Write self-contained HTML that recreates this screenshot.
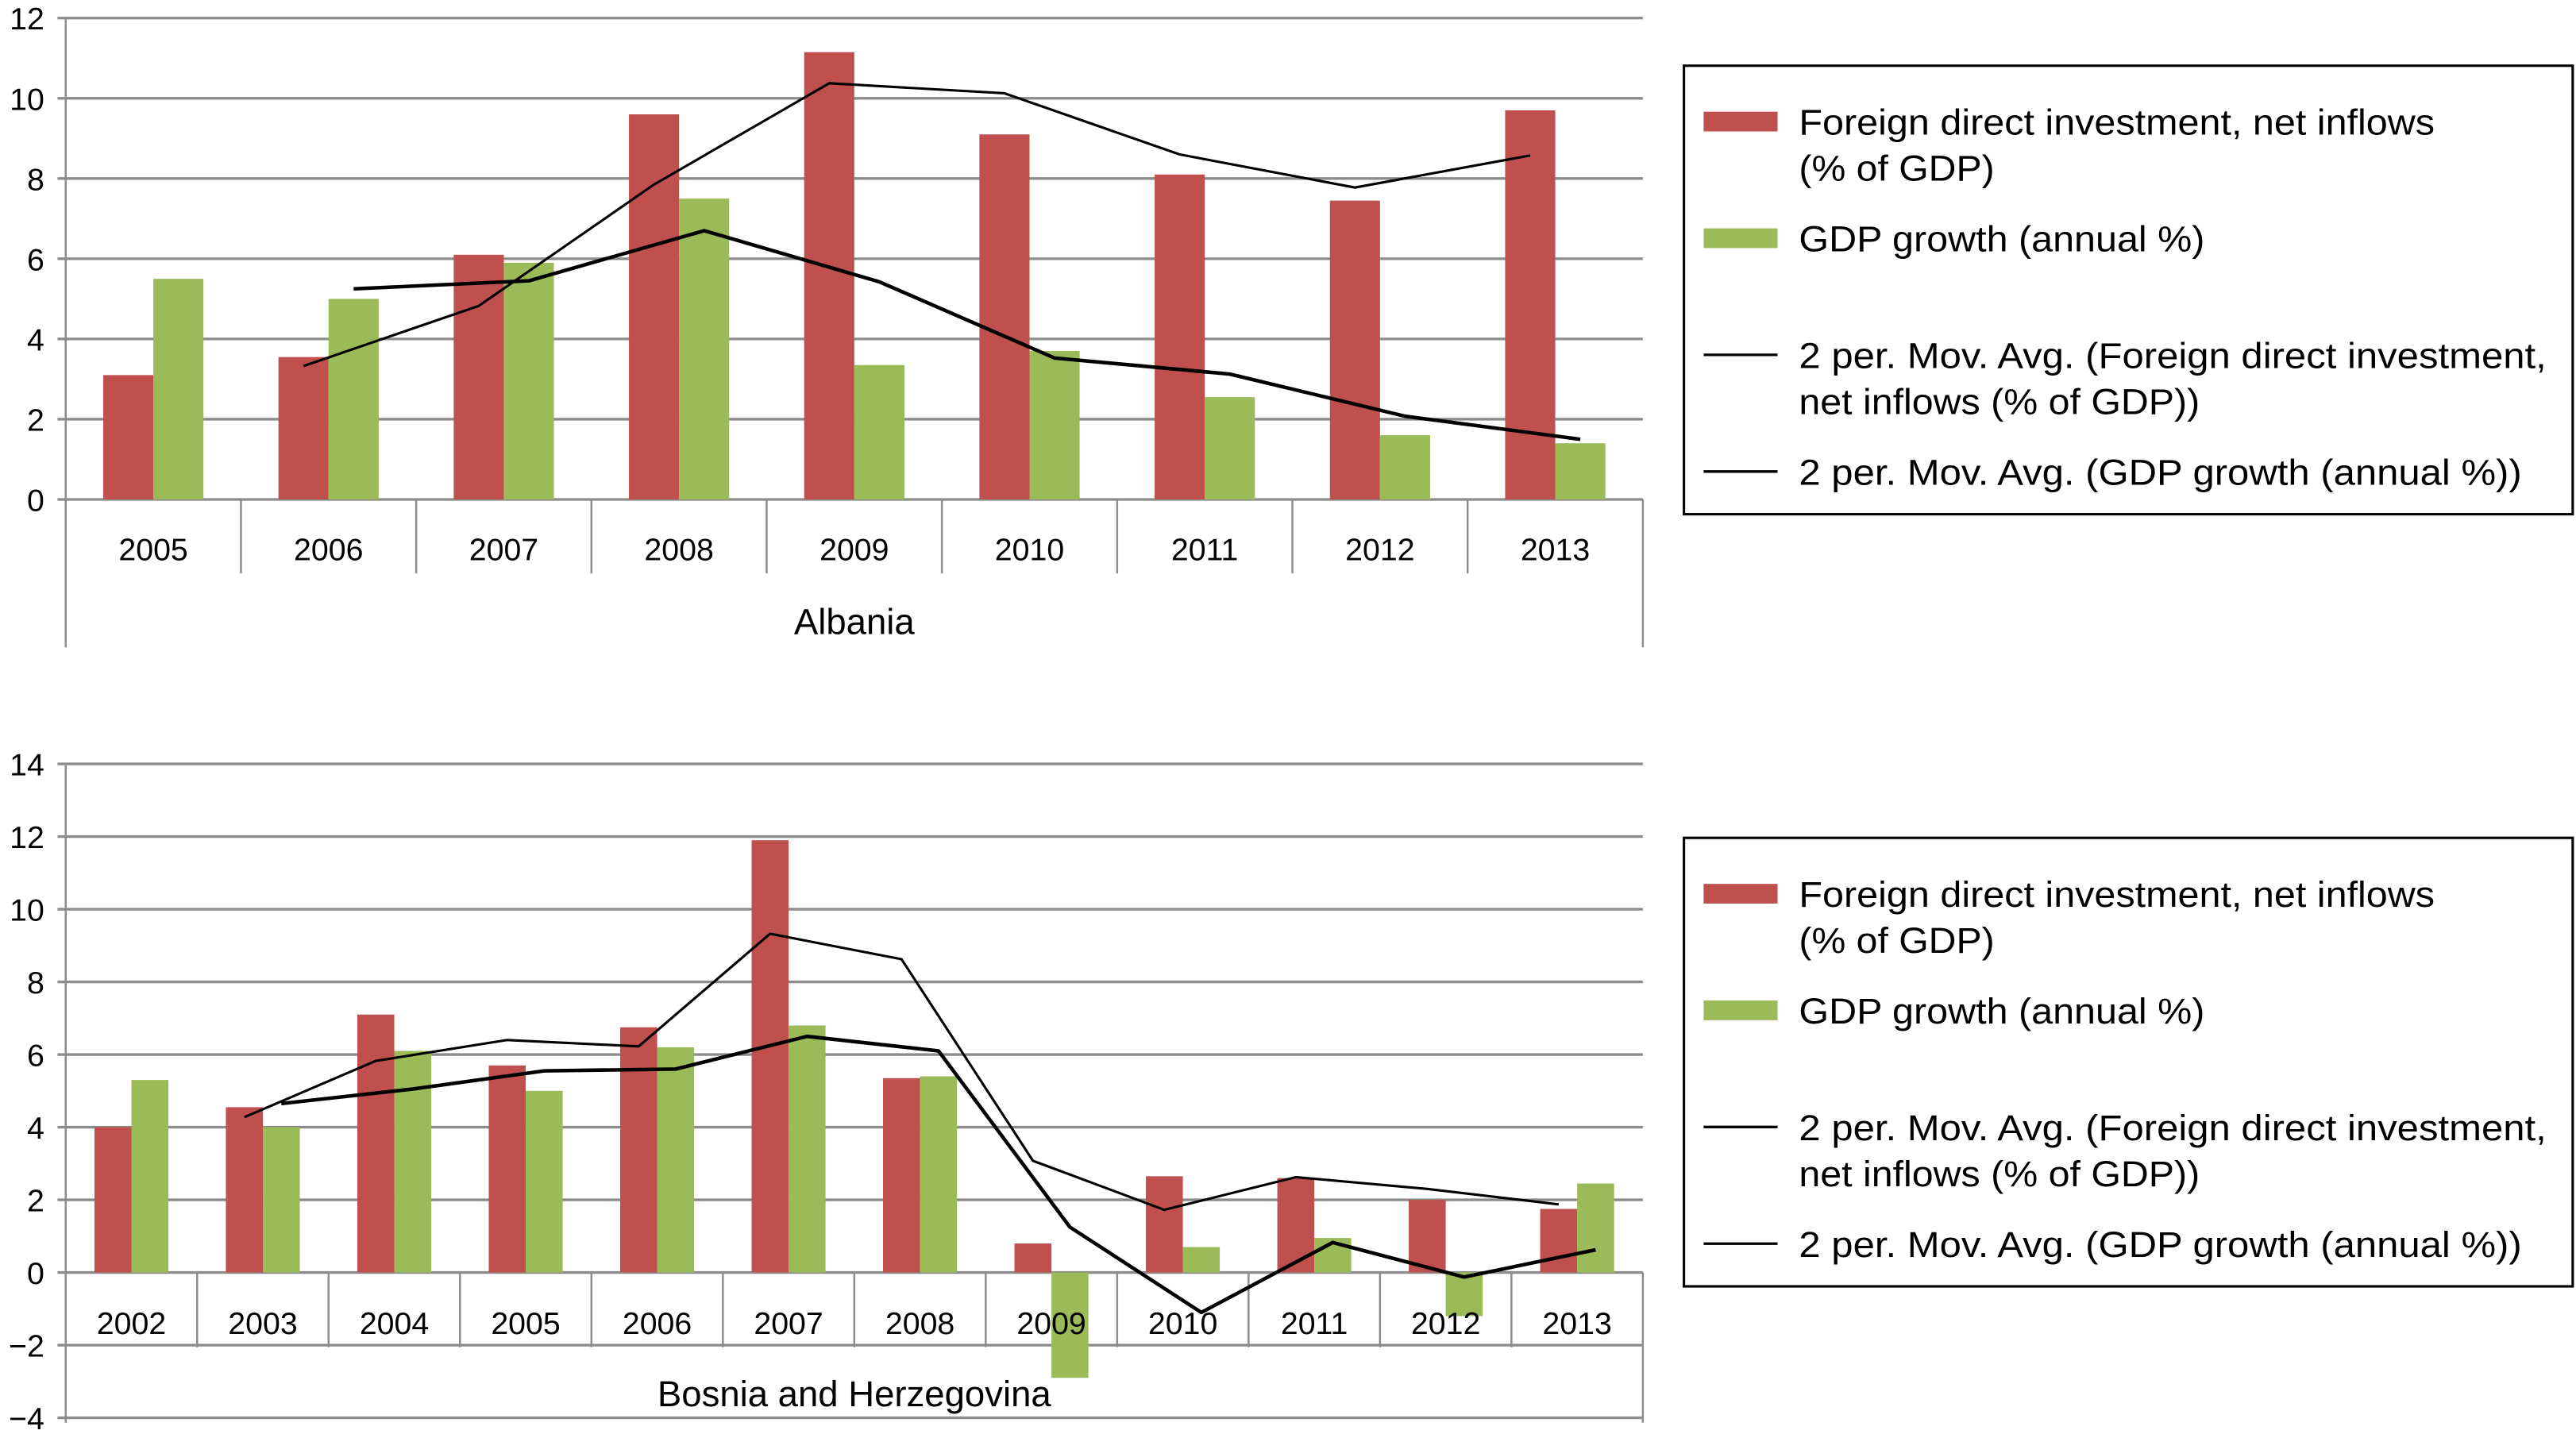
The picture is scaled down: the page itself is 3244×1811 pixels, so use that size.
<!DOCTYPE html>
<html><head><meta charset="utf-8"><style>
html,body{margin:0;padding:0;background:#fff;}
svg{display:block;}
text{font-family:"Liberation Sans",Arial,sans-serif;fill:#000;}
</style></head><body>
<svg id="s" width="3244" height="1811" viewBox="0 0 1568 875.3" preserveAspectRatio="none">
<g id="top"></g>
<g id="bot"></g>
<g id="leg"></g>
</svg>
<script>
const albYears = ["2005","2006","2007","2008","2009","2010","2011","2012","2013"];
const albFdi = [3.1,3.55,6.1,9.6,11.15,9.1,8.1,7.45,9.7];
const albGdp = [5.5,5.0,5.9,7.5,3.35,3.7,2.55,1.6,1.4];
const albTicks = [0,2,4,6,8,10,12];
const bihYears = ["2002","2003","2004","2005","2006","2007","2008","2009","2010","2011","2012","2013"];
const bihFdi = [4.0,4.55,7.1,5.7,6.75,11.9,5.35,0.8,2.65,2.6,2.0,1.75];
const bihGdp = [5.3,4.0,6.1,5.0,6.2,6.8,5.4,-2.9,0.7,0.95,-1.2,2.45];
const bihTicks = [-4,-2,0,2,4,6,8,10,12,14];
const legendLabels = ["Foreign direct investment, net inflows","(% of GDP)","GDP growth (annual %)","2 per. Mov. Avg. (Foreign direct investment,","net inflows (% of GDP))","2 per. Mov. Avg. (GDP growth (annual %))"];

const NS="http://www.w3.org/2000/svg";
function mk(parent,tag,attrs,txt){const e=document.createElementNS(NS,tag);for(const k in attrs)e.setAttribute(k,attrs[k]);if(txt!==undefined)e.textContent=txt;parent.appendChild(e);return e;}

function drawChart(g,cfg){
  const {years,fdi,gdp,ticks,yTop,yBot,vMin,vMax,x0,x1,labelY,dividerBot,outerBot,title,titleY,barW}=cfg;
  const y=v=>yTop+(vMax-v)/(vMax-vMin)*(yBot-yTop);
  const bw=(x1-x0)/years.length;
  const cx=i=>x0+bw*(i+0.5);
  ticks.forEach(t=>{
    const l=mk(g,'line',{x1:x0-5,x2:x1,y1:y(t),y2:y(t),stroke:'#8c8c8c','stroke-width':1.6});
    
    
    const tx=mk(g,'text',{x:x0-13,y:y(t)+7,'font-size':19,'text-anchor':'end'},t<0?'\u2212'+(-t):String(t));
    
    
  });
  const ax=mk(g,'line',{x1:x0,x2:x0,y1:yTop,y2:outerBot,stroke:'#8c8c8c','stroke-width':1.2});
  
  
  const z=y(0);
  const rx=mk(g,'line',{x1:x1,x2:x1,y1:z,y2:outerBot,stroke:'#8c8c8c','stroke-width':1.2});
  
  
  for(let i=1;i<years.length;i++){
    const d=mk(g,'line',{x1:x0+bw*i,x2:x0+bw*i,y1:z,y2:dividerBot,stroke:'#8c8c8c','stroke-width':1.2});
    
    
  }
  years.forEach((yr,i)=>{
    const r=mk(g,'rect',{x:cx(i)-barW,y:Math.min(y(fdi[i]),z),width:barW,height:Math.abs(z-y(fdi[i])),fill:'#c0504d'});
    
    
    const gr=mk(g,'rect',{x:cx(i),y:Math.min(y(gdp[i]),z),width:barW,height:Math.abs(z-y(gdp[i])),fill:'#9bbb59'});
    
    
  });
  years.forEach((yr,i)=>{
    const t=mk(g,'text',{x:cx(i),y:labelY,'font-size':19,'text-anchor':'middle'},yr);
    
    
  });
  const ma=(arr,off,w,name)=>{
    const pts=[];
    for(let i=1;i<arr.length;i++)pts.push((cx(i)+off)+','+y((arr[i]+arr[i-1])/2));
    const p=mk(g,'polyline',{points:pts.join(' '),fill:'none',stroke:'#000','stroke-width':w,'stroke-linejoin':'round'});
    
    
  };
  ma(fdi,-barW/2,1.5,'moving-avg-fdi-line');
  ma(gdp,barW/2,2.2,'moving-avg-gdp-line');
  const tt=mk(g,'text',{x:(x0+x1)/2,y:titleY,'font-size':22,'text-anchor':'middle'},title);
  
  
}

drawChart(document.getElementById('top'),{years:albYears,fdi:albFdi,gdp:albGdp,ticks:albTicks,yTop:11,yBot:304,vMin:0,vMax:12,x0:40,x1:1000,labelY:341,dividerBot:349,outerBot:394,title:'Albania',titleY:386,barW:30.5});
drawChart(document.getElementById('bot'),{years:bihYears,fdi:bihFdi,gdp:bihGdp,ticks:bihTicks,yTop:465,yBot:863,vMin:-4,vMax:14,x0:40,x1:1000,labelY:812,dividerBot:820,outerBot:866,title:'Bosnia and Herzegovina',titleY:856,barW:22.5});

function drawLegend(g,top,name){
  const box=mk(g,'rect',{x:1025,y:top,width:541,height:273,fill:'#fff',stroke:'#000','stroke-width':1.5});
  
  
  const s1=mk(g,'rect',{x:1037,y:top+28,width:45,height:12,fill:'#c0504d'});
  
  
  const s2=mk(g,'rect',{x:1037,y:top+99,width:45,height:12,fill:'#9bbb59'});
  
  
  const l1=mk(g,'line',{x1:1037,x2:1082,y1:top+176,y2:top+176,stroke:'#000','stroke-width':1.6});
  
  
  const l2=mk(g,'line',{x1:1037,x2:1082,y1:top+247,y2:top+247,stroke:'#000','stroke-width':1.6});
  
  
  const ys=[top+42,top+70,top+113,top+184,top+212,top+255];
  const lens=[387,119,247,455,244,440];
  legendLabels.forEach((s,i)=>{
    const t=mk(g,'text',{x:1095,y:ys[i],'font-size':22,textLength:lens[i],lengthAdjust:'spacingAndGlyphs'},s);
    
    
  });
}
drawLegend(document.getElementById('leg'),40,'legend-albania');
drawLegend(document.getElementById('leg'),510,'legend-bosnia');
</script>
</body></html>
